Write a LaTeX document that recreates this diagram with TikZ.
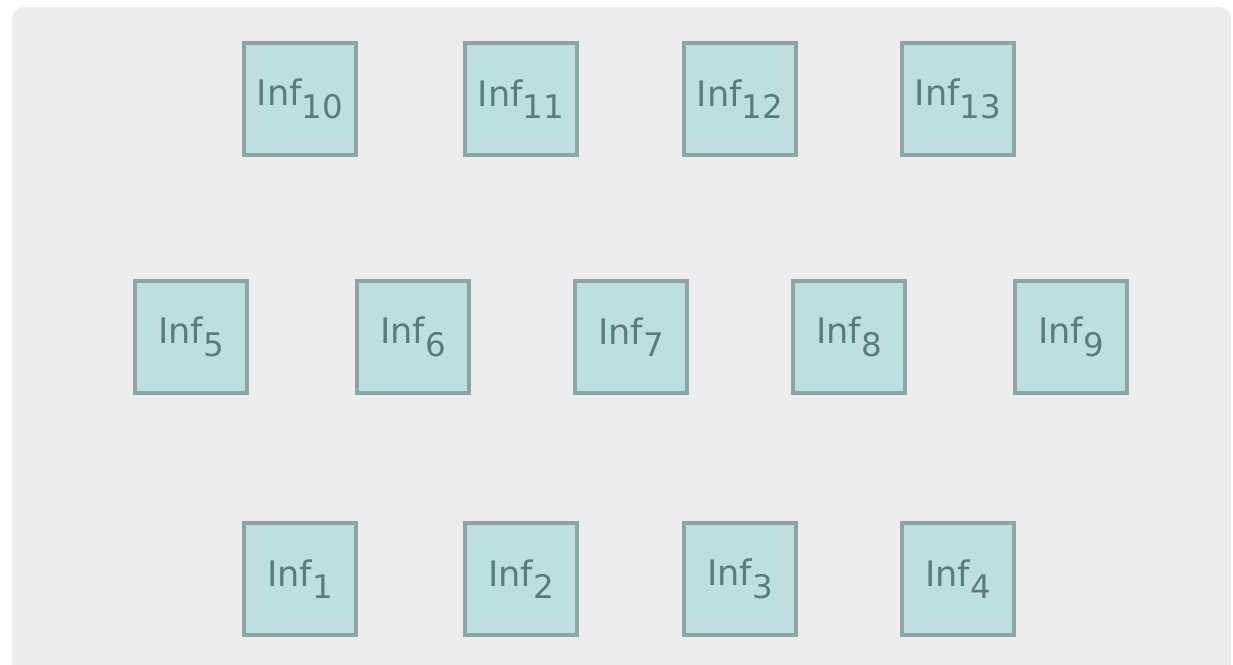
\documentclass[tikz,border=0pt]{standalone}
\usepackage{fontspec}
\setmainfont{DejaVu Sans}
\usetikzlibrary{positioning}
\definecolor{panelgray}{HTML}{EDEDEF}
\definecolor{boxfill}{HTML}{BCE0E1}
\definecolor{boxline}{HTML}{8EA5A6}
\definecolor{boxtext}{HTML}{5E7B7B}
\newcommand{\infname}[1]{Inf\raisebox{-0.36em}{\fontsize{18.5}{18.5}\selectfont #1}}
\begin{document}
\begin{tikzpicture}
  [
  x=0.02cm, y=-0.02cm,
  font=\fontsize{20}{23}\selectfont,
  panel/.style={fill=panelgray, draw=none, rounded corners=0.24cm},
  infbox/.style={rectangle, minimum size=2.24cm, inner sep=0pt, draw=boxline, line width=1.8pt, fill=boxfill, text=boxtext}
  ]
\useasboundingbox (0,0) rectangle (1233,664);
\fill[panel] (12,7) rectangle (1231,690);

% top row
\foreach \n/\x in {10/300,11/521,12/740,13/958} {
  \node[infbox] (inf\n) at (\x,99) {\infname{\n}};
}

% middle row
\foreach \n/\x in {5/191,6/413,7/631,8/849,9/1071} {
  \node[infbox] (inf\n) at (\x,337) {\infname{\n}};
}

% bottom row
\foreach \n/\x in {1/300,2/521,3/740,4/958} {
  \node[infbox] (inf\n) at (\x,579) {\infname{\n}};
}
\end{tikzpicture}
\end{document}
